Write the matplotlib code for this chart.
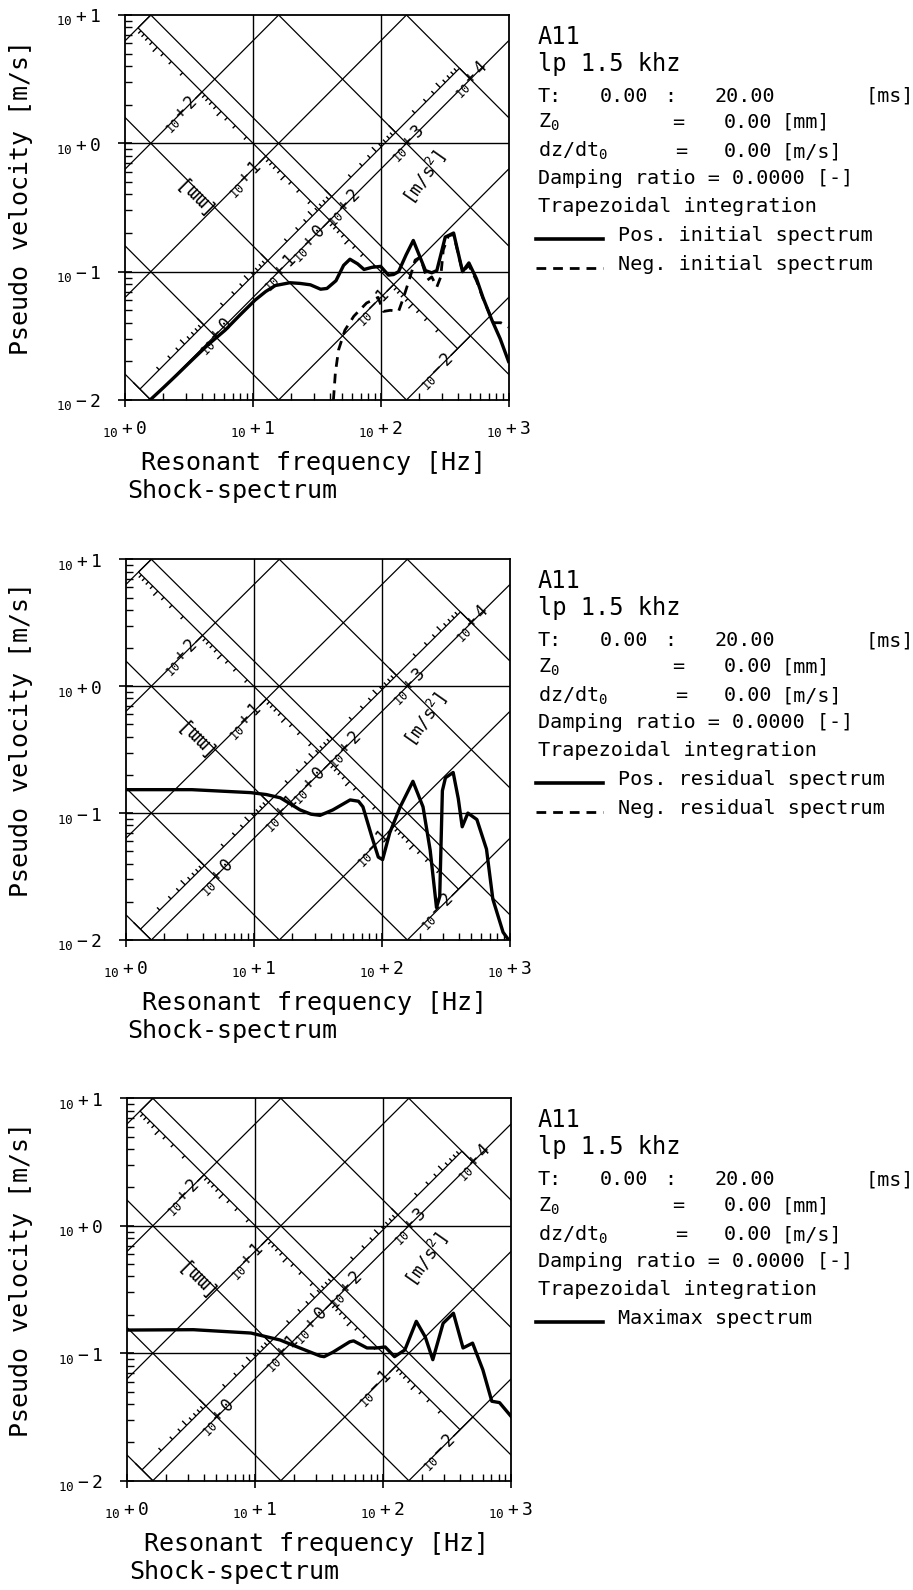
import numpy as np
import matplotlib
matplotlib.use("Agg")
import matplotlib.pyplot as plt
from matplotlib.lines import Line2D

plt.rcParams['font.family'] = ['DejaVu Sans Mono', 'DejaVu Sans']
plt.rcParams['mathtext.default'] = 'regular'

# ---------------- data ----------------
# frequency [Hz] / pseudo velocity [m/s]
init_pos_f = [1.57, 2.0, 2.51, 3.35, 4.47, 6.07, 7.94, 10.4, 12.6, 15.0,
              19.5, 23.4, 28.2, 33.9, 38.0, 44.7, 51.3, 57.5, 66.1, 74.1,
              85.1, 100, 115, 126, 138, 158, 180, 200, 224, 251,
              275, 320, 372, 437, 490, 562, 631, 741, 861, 1000]
init_pos_v = [0.0100, 0.0125, 0.0155, 0.0205, 0.027, 0.035, 0.046, 0.060, 0.070, 0.078,
              0.082, 0.081, 0.079, 0.073, 0.074, 0.085, 0.112, 0.125, 0.115, 0.104,
              0.108, 0.110, 0.094, 0.095, 0.100, 0.135, 0.175, 0.135, 0.102, 0.098,
              0.102, 0.186, 0.200, 0.100, 0.117, 0.088, 0.063, 0.042, 0.030, 0.020]

init_neg_f = [42.7, 44.2, 46.8, 52.5, 61.7, 77.6, 95.5, 105, 119, 138,
              151, 170, 186, 204, 232, 251, 275, 295, 309, 339,
              372, 437, 490, 562, 631, 724, 759, 871, 1000]
init_neg_v = [0.0100, 0.0162, 0.0245, 0.035, 0.045, 0.057, 0.063, 0.049, 0.050, 0.049,
              0.063, 0.091, 0.123, 0.130, 0.086, 0.091, 0.076, 0.091, 0.148, 0.190,
              0.195, 0.100, 0.112, 0.085, 0.062, 0.045, 0.040, 0.040, 0.037]

resid_pos_f = [1.0, 3.3, 9.5, 12.6, 16.2, 20.0, 23.1, 28.2, 33.1, 41.7,
               56.9, 66.1, 71.6, 84.1, 94.4, 102, 116, 140, 176, 211,
               240, 269, 285, 299, 316, 363, 398, 427, 473, 556,
               661, 741, 891, 1000]
resid_pos_v = [0.153, 0.153, 0.145, 0.140, 0.132, 0.116, 0.106, 0.098, 0.096, 0.106,
               0.127, 0.124, 0.112, 0.065, 0.045, 0.043, 0.070, 0.112, 0.178, 0.112,
               0.051, 0.018, 0.022, 0.150, 0.190, 0.209, 0.130, 0.078, 0.100, 0.089,
               0.052, 0.021, 0.0115, 0.0098]

maximax_f = [1.0, 3.3, 9.3, 15.7, 22.4, 32.4, 34.7, 40.7, 55.0, 58.9,
             75.0, 89.1, 104, 123, 148, 182, 214, 245, 295, 355,
             422, 501, 603, 708, 813, 1000]
maximax_v = [0.152, 0.153, 0.144, 0.127, 0.110, 0.095, 0.094, 0.102, 0.123, 0.125,
             0.110, 0.110, 0.112, 0.094, 0.106, 0.178, 0.134, 0.089, 0.172, 0.206,
             0.110, 0.120, 0.074, 0.042, 0.041, 0.032]

x_ticks = [1, 10, 100, 1000]
x_tick_exp = ['+0', '+1', '+2', '+3']
y_ticks = [0.01, 0.1, 1, 10]
y_tick_exp = ['-2', '-1', '+0', '+1']

acc_label_exp = [0, 1, 2, 3, 4]        # [m/s^2] decades labelled on the accel. ruler
disp_label_exp = [-2, -1, 0, 1, 2]     # [mm] decades labelled on the displacement ruler

info_lines = ['T:', 'Z$_0$', 'dz/dt$_0$', 'Damping ratio = 0.0000 [-]', 'Trapezoidal integration']
legend_sets = [
    [('-', 'Pos. initial spectrum'), ('--', 'Neg. initial spectrum')],
    [('-', 'Pos. residual spectrum'), ('--', 'Neg. residual spectrum')],
    [('-', 'Maximax spectrum')],
]

# ---------------- figure ----------------
W, H = 913, 1590
fig = plt.figure(figsize=(W / 100, H / 100), dpi=100)
TWO_PI = 2 * np.pi


def fx(x):
    return x / W


def fy(y):
    return 1 - y / H


def fv(a, d):
    # acceleration [m/s^2], displacement [m] -> frequency [Hz], velocity [m/s]
    v = np.sqrt(a * d)
    return a / (TWO_PI * v), v


def seg(ax, p, q, lw=0.9):
    ax.plot([p[0], q[0]], [p[1], q[1]], color='k', lw=lw, solid_capstyle='butt')


def dec(e):
    return r'${}_{10}%s$' % e


def tick_len(m):
    return 0.075 if m == 1 else (0.05 if m == 5 else 0.03)


def draw_panel(left, right, top, bottom, curves):
    ax = fig.add_axes([fx(left), fy(bottom), fx(right - left), (bottom - top) / H])
    ax.set_xscale('log')
    ax.set_yscale('log')
    ax.set_xlim(1, 1000)
    ax.set_ylim(0.01, 10)
    ax.autoscale(False)

    for g in [10, 100]:
        ax.axvline(g, color='k', lw=1.0)
    for g in [0.1, 1]:
        ax.axhline(g, color='k', lw=1.0)

    f = np.array([1.0, 1000.0])
    for k in range(-8, 2):
        ax.plot(f, TWO_PI * f * 10.0 ** k, color='k', lw=0.9)
    for k in range(-2, 8):
        ax.plot(f, 10.0 ** k / (TWO_PI * f), color='k', lw=0.9)

    # acceleration ruler along the 1 mm line
    d_in, d_out = 1e-3, 1e-3 * 10 ** 0.17
    seg(ax, fv(0.1, d_out), fv(1e4, d_out))
    seg(ax, fv(0.1, d_in), fv(0.1, d_out))
    seg(ax, fv(1e4, d_in), fv(1e4, d_out))
    for k in range(-1, 4):
        for m in range(1, 10):
            a = m * 10.0 ** k
            seg(ax, fv(a, d_out), fv(a, d_out * 10 ** (1.414 * tick_len(m))), lw=1.0)
    for e in acc_label_exp:
        p = fv(10.0 ** e, 1e-3)
        ax.text(p[0], p[1], dec('%+d' % e), fontsize=12, rotation=45,
                ha='center', va='center', rotation_mode='anchor')

    # displacement ruler along the 100 m/s^2 line
    a_in, a_out = 100.0, 10 ** 1.8
    seg(ax, fv(a_out, 1e-5), fv(a_out, 1.0))
    seg(ax, fv(a_in, 1e-5), fv(a_out, 1e-5))
    seg(ax, fv(a_in, 1.0), fv(a_out, 1.0))
    for k in range(-2, 3):
        for m in range(1, 10):
            d = m * 10.0 ** (k - 3)
            seg(ax, fv(a_out, d), fv(a_out / 10 ** (1.414 * tick_len(m)), d), lw=1.0)
    for e in disp_label_exp:
        p = fv(10 ** 1.45, 10.0 ** (e - 3))
        ax.text(p[0], p[1], dec('%+d' % e), fontsize=12, rotation=45,
                ha='center', va='center', rotation_mode='anchor')

    ax.text(3.25, 0.42, '[mm]', fontsize=14, rotation=135, ha='center', va='center')
    ax.text(215, 0.55, '[m/s$^2$]', fontsize=13, rotation=55, ha='center', va='center')

    for fr, vel, style in curves:
        if style == '-':
            ax.plot(fr, vel, color='k', lw=2.4, solid_joinstyle='round')
        else:
            ax.plot(fr, vel, color='k', lw=2.0, dashes=(3.5, 2.5))

    for s in ax.spines.values():
        s.set_linewidth(1.3)
    ax.set_xticks(x_ticks)
    ax.set_xticklabels([dec(e) for e in x_tick_exp])
    ax.set_yticks(y_ticks)
    ax.set_yticklabels([dec(e) for e in y_tick_exp])
    ax.tick_params(which='major', direction='inout', length=10, width=1.2, labelsize=13)
    ax.tick_params(which='minor', direction='in', length=5, width=1.0)
    ax.tick_params(axis='x', which='major', pad=9)
    ax.tick_params(axis='y', which='major', pad=12)
    ax.tick_params(which='minor', labelbottom=False, labelleft=False)

    cy = (top + bottom) / 2 - 10
    fig.text(fx(21), fy(cy), 'Pseudo velocity [m/s]', fontsize=18, rotation=90,
             ha='center', va='center')
    fig.text(fx((left + right) / 2 - 3), fy(bottom + 63), 'Resonant frequency [Hz]',
             fontsize=18, ha='center', va='center')
    fig.text(fx(left + 2), fy(bottom + 91), 'Shock-spectrum', fontsize=18,
             ha='left', va='center')
    return ax


def draw_info(top, legend):
    rows = [29, 56, 87, 113, 142, 169, 197, 226, 255]
    x0 = 538
    fig.text(fx(x0), fy(top + rows[0]), 'A11', fontsize=17, va='baseline')
    fig.text(fx(x0), fy(top + rows[1]), 'lp 1.5 khz', fontsize=17, va='baseline')
    fs = 14.5
    yb = fy(top + rows[2])
    fig.text(fx(x0), yb, info_lines[0], fontsize=fs, va='baseline')
    fig.text(fx(600), yb, '0.00', fontsize=fs, va='baseline')
    fig.text(fx(664), yb, ':', fontsize=fs, va='baseline')
    fig.text(fx(714), yb, '20.00', fontsize=fs, va='baseline')
    fig.text(fx(865), yb, '[ms]', fontsize=fs, va='baseline')
    yb = fy(top + rows[3])
    fig.text(fx(x0), yb, info_lines[1], fontsize=fs, va='baseline')
    fig.text(fx(672), yb, '=', fontsize=fs, va='baseline')
    fig.text(fx(724), yb, '0.00', fontsize=fs, va='baseline')
    fig.text(fx(781), yb, '[mm]', fontsize=fs, va='baseline')
    yb = fy(top + rows[4])
    fig.text(fx(x0), yb, info_lines[2], fontsize=fs, va='baseline')
    fig.text(fx(675), yb, '=', fontsize=fs, va='baseline')
    fig.text(fx(724), yb, '0.00', fontsize=fs, va='baseline')
    fig.text(fx(781), yb, '[m/s]', fontsize=fs, va='baseline')
    fig.text(fx(x0), fy(top + rows[5]), info_lines[3], fontsize=fs, va='baseline')
    fig.text(fx(x0), fy(top + rows[6]), info_lines[4], fontsize=fs, va='baseline')
    for i, (style, label) in enumerate(legend):
        yb = top + rows[7 + i]
        if style == '-':
            ln = Line2D([fx(536), fx(603)], [fy(yb - 2), fy(yb - 2)], color='k', lw=2.6)
        else:
            ln = Line2D([fx(536), fx(603)], [fy(yb - 2), fy(yb - 2)], color='k', lw=2.0,
                        dashes=(3.5, 2.5))
        fig.add_artist(ln)
        fig.text(fx(618), fy(yb), label, fontsize=fs, va='baseline')


draw_panel(125, 508.5, 15, 400,
           [(init_pos_f, init_pos_v, '-'), (init_neg_f, init_neg_v, '--')])
draw_info(15, legend_sets[0])

draw_panel(125.5, 509.5, 559.3, 940,
           [(resid_pos_f, resid_pos_v, '-')])
draw_info(559.3, legend_sets[1])

draw_panel(127, 511, 1098.3, 1480.7,
           [(maximax_f, maximax_v, '-')])
draw_info(1098.3, legend_sets[2])

fig.savefig('out.png', dpi=100)
